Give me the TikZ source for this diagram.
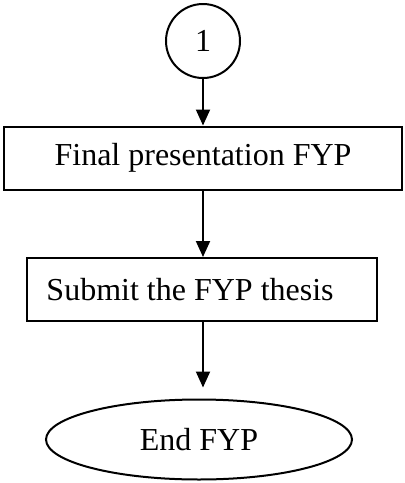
\documentclass[tikz,border=0pt]{standalone}
\usepackage{fontspec}
\setmainfont{Liberation Serif}
\usetikzlibrary{positioning, arrows.meta, shapes.geometric}

\begin{document}
\begin{tikzpicture}[
    x=0.5pt, y=-0.5pt,
    connector/.style={circle, draw=black, line width=1pt, minimum size=37pt, inner sep=0pt, font=\fontsize{16}{19}\selectfont},
    process/.style={rectangle, draw=black, line width=1pt, minimum height=31.5pt, align=center, font=\fontsize{16}{19}\selectfont},
    terminal/.style={ellipse, draw=black, line width=1pt, minimum width=153pt, minimum height=40pt, inner sep=0pt, font=\fontsize{16}{19}\selectfont},
    arrow/.style={-{Triangle[length=8pt, width=7pt]}, line width=1pt}
]
\useasboundingbox (0,0) rectangle (404,483);

% Connector
\node[connector] (start) at (203,41) {1};

% Steps
\node[process, minimum width=199pt] (present) at (203,158) {Final presentation FYP};
\node[process, minimum width=175pt, text width=155pt, align=flush left, inner xsep=10pt] (submit) at (201.5,289.5) {Submit the FYP thesis};

% End
\node[terminal] (endfyp) at (199,439.5) {End FYP};

% Arrows
\draw[arrow] (start.south) -- (present.north);
\draw[arrow] (present.south) -- (present.south |- submit.north);
\draw[arrow, shorten >=5.5pt] (present.south |- submit.south) -- (present.south |- endfyp.north);

\end{tikzpicture}
\end{document}
